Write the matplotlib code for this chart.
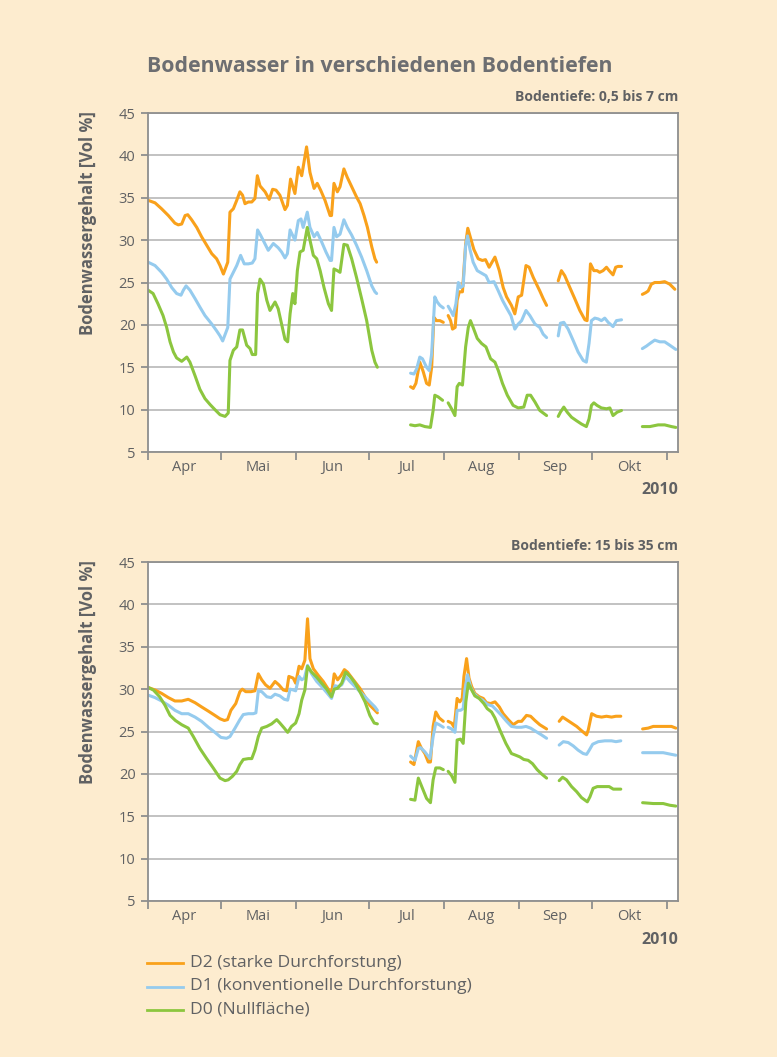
import numpy as np
import matplotlib
matplotlib.use("Agg")
import matplotlib.pyplot as plt
from matplotlib.lines import Line2D

# ---------------- data (x = days since 1 April 2010, None = gap) ----------------
months = ["Apr", "Mai", "Jun", "Jul", "Aug", "Sep", "Okt"]
month_starts = [0, 30, 61, 91, 122, 153, 183, 214]
year_label = "2010"
title = "Bodenwasser in verschiedenen Bodentiefen"
depth_labels = ["Bodentiefe: 0,5 bis 7 cm", "Bodentiefe: 15 bis 35 cm"]
ylabel = "Bodenwassergehalt [Vol %]"
series_names = ["D2 (starke Durchforstung)",
                "D1 (konventionelle Durchforstung)",
                "D0 (Nullfläche)"]

# ---- top panel: 0,5 bis 7 cm ----
top_d2_days = [0, 2.9, 5.6, 8.4, 11.1, 12.5, 13.9, 15.3, 16.4, 18.0, 20.1, 22.1, 24.2, 26.3, 28.3,
               29.7, 31.1, 32.9, 33.8, 35.2, 36.6, 37.9, 39.0, 40.0, 41.4, 42.8, 44.1, 45.1, 46.2,
               48.3, 50.0, 51.4, 52.8, 54.4, 56.5, 57.5, 58.8, 60.6, 62.0, 63.4, 65.4, 66.8, 68.5,
               69.8, 71.2, 73.0, 75.1, 75.7, 76.7, 78.1, 79.2, 80.8, 82.2, 84.0, 86.0, 87.5, 89.1,
               90.5, 92.3, 93.6, 94.3, None,
               108.3, 109.4, 110.5, 112.1, 113.5, 114.9, 116.0, 117.0, 117.9, 119.0, 120.4, 121.8, None,
               123.8, 124.8, 125.6, 126.7, 127.5, 128.4, 129.7, 131.0, 131.9, 133.0, 134.4, 136.2,
               137.9, 139.2, 140.7, 143.1, 144.9, 146.5, 147.9, 149.9, 151.3, 152.7, 154.1, 155.9,
               157.2, 158.9, 161.6, 163.0, 164.4, None,
               169.2, 170.5, 171.9, 174.0, 176.0, 178.1, 180.2, 181.1, 182.5, 183.9, 185.2, 186.3,
               187.7, 189.1, 190.2, 191.8, 192.9, 193.9, 195.3, None,
               203.9, 205.3, 206.3, 207.6, 209.0, 211.1, 213.1, 215.2, 217.3]
top_d2_vals = [34.7, 34.4, 33.7, 32.9, 32.0, 31.8, 31.9, 32.9, 33.0, 32.4, 31.5, 30.4, 29.4, 28.4, 27.8,
               27.0, 26.0, 27.4, 33.3, 33.7, 34.7, 35.7, 35.3, 34.3, 34.5, 34.5, 34.9, 37.6, 36.4,
               35.7, 34.8, 36.0, 35.9, 35.3, 33.6, 34.1, 37.2, 35.5, 38.6, 37.6, 41.0, 38.0, 36.1,
               36.7, 35.9, 34.7, 32.9, 32.9, 36.7, 35.7, 36.3, 38.4, 37.4, 36.3, 35.1, 34.3, 32.9,
               31.5, 29.2, 27.8, 27.4, None,
               12.7, 12.5, 13.1, 15.6, 14.5, 13.1, 12.9, 15.0, 20.9, 20.5, 20.5, 20.3, None,
               21.1, 20.5, 19.5, 19.7, 22.9, 23.9, 23.9, 29.5, 31.4, 30.3, 28.9, 27.8,
               27.6, 27.7, 26.8, 28.0, 26.4, 24.4, 23.3, 22.3, 21.3, 23.3, 23.5, 27.0,
               26.8, 25.6, 24.0, 23.1, 22.3, None,
               25.2, 26.4, 25.8, 24.4, 23.1, 21.7, 20.6, 20.5, 27.2, 26.4, 26.4, 26.2,
               26.4, 26.8, 26.4, 25.9, 26.8, 26.9, 26.9, None,
               23.6, 23.8, 24.0, 24.8, 25.0, 25.0, 25.1, 24.8, 24.2]

top_d1_days = [0, 2.9, 5.6, 7.7, 9.8, 11.8, 13.6, 14.6, 15.7, 17.3, 19.4, 21.4, 23.5, 26.3, 28.3,
               29.7, 30.8, 32.9, 33.8, 35.2, 36.6, 38.2, 39.7, 41.4, 43.0, 44.1, 45.2, 46.4, 47.8,
               49.6, 51.7, 53.7, 55.1, 56.5, 57.5, 58.6, 60.6, 62.0, 63.1, 64.0, 65.7, 66.8, 68.5,
               69.8, 71.6, 73.4, 75.1, 75.7, 76.7, 77.8, 79.2, 80.8, 82.2, 84.0, 86.0, 88.1, 90.2,
               92.3, 93.6, 94.3, None,
               108.3, 109.7, 110.8, 112.1, 113.2, 114.9, 116.0, 117.0, 118.3, 119.3, 120.4, 121.8, None,
               123.8, 124.8, 125.9, 127.0, 128.0, 128.9, 130.0, 131.0, 131.8, 132.8, 134.1, 135.8,
               137.6, 139.4, 140.7, 142.7, 144.5, 146.2, 147.9, 149.7, 151.3, 152.7, 154.1, 155.9,
               157.5, 159.6, 161.6, 163.0, 164.4, None,
               169.2, 170.1, 171.5, 173.3, 175.3, 177.4, 179.5, 180.8, 181.9, 182.9, 184.3, 185.7,
               187.0, 188.4, 189.8, 191.8, 193.2, 195.3, None,
               203.9, 205.6, 207.0, 209.0, 211.1, 213.1, 215.2, 217.7]
top_d1_vals = [27.4, 27.0, 26.2, 25.4, 24.4, 23.7, 23.5, 24.1, 24.6, 24.1, 23.1, 22.1, 21.1, 20.1, 19.3,
               18.7, 18.1, 19.7, 25.4, 26.2, 27.0, 28.2, 27.2, 27.2, 27.3, 27.8, 31.2, 30.6, 29.8,
               28.8, 29.6, 29.1, 28.6, 27.9, 28.4, 31.2, 30.0, 32.3, 32.5, 31.5, 33.3, 31.5, 30.4,
               30.9, 29.8, 28.6, 27.6, 27.6, 31.5, 30.4, 30.7, 32.4, 31.5, 30.6, 29.4, 28.0, 26.4,
               24.6, 23.9, 23.7, None,
               14.3, 14.2, 14.8, 16.2, 16.0, 15.0, 14.6, 16.6, 23.3, 22.7, 22.3, 22.0, None,
               22.2, 21.7, 21.1, 22.5, 25.0, 24.4, 24.6, 29.3, 30.5, 28.9, 27.4, 26.4,
               26.1, 25.8, 25.0, 25.1, 24.0, 22.9, 22.0, 21.1, 19.5, 20.1, 20.5, 21.7,
               21.1, 20.1, 19.7, 18.9, 18.5, None,
               18.7, 20.2, 20.3, 19.5, 18.2, 16.8, 15.8, 15.6, 17.8, 20.5, 20.8, 20.7,
               20.5, 20.8, 20.3, 19.8, 20.5, 20.6, None,
               17.2, 17.5, 17.8, 18.2, 18.0, 18.0, 17.6, 17.1]

top_d0_days = [0, 2.1, 4.1, 6.2, 7.7, 9.1, 10.5, 11.8, 13.9, 16.0, 17.3, 19.4, 21.4, 23.5, 25.6,
               27.6, 29.7, 31.8, 33.1, 33.8, 35.2, 36.6, 37.9, 39.0, 40.7, 42.1, 43.0, 44.4, 45.2,
               46.2, 47.6, 49.0, 50.3, 52.4, 53.7, 55.1, 56.5, 57.6, 58.6, 59.7, 60.6, 61.6, 62.7,
               64.0, 65.7, 66.8, 68.2, 69.6, 71.0, 72.6, 74.4, 75.7, 76.7, 78.1, 79.2, 80.8, 82.2,
               84.0, 86.0, 88.1, 90.2, 92.3, 93.6, 94.6, None,
               108.3, 110.1, 112.1, 114.2, 116.5, 117.6, 118.3, 119.7, 121.5, None,
               123.8, 125.2, 126.6, 127.5, 128.4, 129.7, 131.0, 132.1, 133.0, 134.1, 135.8, 137.6,
               139.4, 141.3, 143.1, 144.5, 146.2, 148.2, 150.6, 152.7, 155.0, 156.4, 157.8, 159.6,
               161.6, 163.0, 164.4, None,
               169.2, 170.1, 171.5, 172.9, 174.7, 176.7, 178.8, 180.8, 181.9, 182.9, 183.9, 185.2,
               187.0, 189.1, 190.5, 191.8, 193.5, 195.3, None,
               203.9, 207.0, 210.4, 213.1, 215.9, 217.7]
top_d0_vals = [24.1, 23.7, 22.5, 21.1, 19.7, 18.0, 16.8, 16.1, 15.7, 16.2, 15.6, 14.0, 12.4, 11.3, 10.6,
               10.0, 9.4, 9.2, 9.6, 15.8, 17.0, 17.4, 19.4, 19.4, 17.6, 17.2, 16.5, 16.5, 23.7,
               25.4, 24.8, 22.9, 21.7, 22.7, 21.9, 20.1, 18.3, 18.0, 21.3, 23.7, 22.5, 26.4, 28.6,
               28.8, 31.5, 30.0, 28.2, 27.8, 26.4, 24.4, 22.5, 21.7, 26.6, 26.4, 26.2, 29.5, 29.4,
               27.8, 25.6, 23.1, 20.5, 17.0, 15.6, 15.0, None,
               8.2, 8.1, 8.2, 8.0, 7.9, 9.9, 11.7, 11.5, 11.1, None,
               10.8, 10.1, 9.3, 12.7, 13.1, 12.9, 17.4, 19.7, 20.5, 19.7, 18.4, 17.8,
               17.4, 16.0, 15.6, 14.6, 13.1, 11.7, 10.5, 10.2, 10.3, 11.7, 11.7, 10.9,
               9.9, 9.6, 9.3, None,
               9.2, 9.7, 10.3, 9.7, 9.1, 8.7, 8.3, 8.0, 8.9, 10.5, 10.8, 10.5,
               10.2, 10.1, 10.2, 9.3, 9.7, 9.9, None,
               8.0, 8.0, 8.2, 8.2, 8.0, 7.9]

# ---- bottom panel: 15 bis 35 cm ----
bot_d2_days = [0, 2.9, 5.6, 8.4, 11.1, 13.9, 16.6, 19.4, 22.1, 24.9, 27.6, 29.7, 31.5, 32.8, 34.2,
               36.2, 37.9, 38.9, 40.3, 42.5, 44.1, 45.5, 46.9, 48.5, 50.3, 52.4, 54.0, 55.8, 57.2,
               58.1, 59.9, 60.9, 62.3, 63.4, 64.7, 65.8, 66.8, 68.2, 70.3, 72.3, 74.1, 75.7, 76.8,
               78.2, 79.6, 81.0, 82.3, 84.7, 87.4, 89.5, 91.5, 93.6, 94.6, None,
               108.3, 109.7, 111.5, 112.8, 114.2, 115.6, 116.5, 117.6, 118.7, 120.1, 121.8, None,
               123.8, 125.2, 126.3, 127.5, 128.6, 129.6, 130.3, 131.4, 132.4, 133.5, 134.8, 136.6,
               138.3, 139.6, 141.3, 143.1, 144.9, 146.5, 148.6, 150.6, 152.7, 154.1, 156.1, 157.8,
               159.6, 161.6, 164.4, None,
               169.6, 171.0, 172.6, 174.7, 176.8, 178.8, 180.9, 181.6, 183.0, 185.0, 187.1, 189.1,
               191.2, 193.0, 195.0, None,
               204.0, 206.3, 208.4, 211.1, 213.9, 215.9, 217.7]
bot_d2_vals = [30.2, 29.9, 29.5, 29.0, 28.6, 28.6, 28.8, 28.4, 27.9, 27.4, 26.9, 26.5, 26.3, 26.4, 27.5,
               28.3, 29.7, 30.0, 29.7, 29.7, 29.8, 31.8, 31.1, 30.5, 30.1, 30.9, 30.5, 29.9, 29.8,
               31.5, 31.3, 30.7, 32.7, 32.4, 33.4, 38.3, 33.6, 32.4, 31.6, 30.9, 30.1, 29.4, 31.8,
               31.1, 31.6, 32.3, 32.0, 31.1, 30.1, 29.1, 28.1, 27.5, 27.2, None,
               21.4, 21.1, 23.8, 23.0, 22.4, 21.4, 21.4, 25.6, 27.3, 26.6, 26.2, None,
               26.2, 26.0, 25.5, 28.9, 28.5, 28.9, 31.5, 33.6, 31.3, 30.3, 29.5, 29.1,
               28.9, 28.4, 28.3, 28.5, 27.9, 27.1, 26.4, 25.8, 26.2, 26.2, 26.9, 26.8,
               26.3, 25.8, 25.3, None,
               26.2, 26.7, 26.4, 26.0, 25.6, 25.1, 24.6, 25.2, 27.1, 26.8, 26.7, 26.8,
               26.7, 26.8, 26.8, None,
               25.3, 25.4, 25.6, 25.6, 25.6, 25.6, 25.4]

bot_d1_days = [0, 2.9, 5.6, 8.4, 11.1, 13.9, 16.6, 19.4, 22.1, 24.9, 27.6, 30.1, 32.4, 33.8, 35.9,
               37.9, 39.3, 41.4, 43.4, 44.5, 45.5, 46.9, 49.0, 50.7, 52.4, 54.4, 56.2, 57.6, 58.6,
               59.9, 60.9, 62.3, 63.4, 64.5, 65.8, 67.5, 69.6, 71.6, 73.7, 75.7, 77.1, 78.5, 79.9,
               81.5, 83.3, 85.4, 87.4, 89.5, 91.5, 93.6, 94.6, None,
               108.3, 110.1, 111.5, 112.4, 114.2, 116.3, 117.6, 118.7, 120.1, 121.8, None,
               123.8, 125.2, 126.6, 127.5, 128.9, 130.0, 130.7, 131.8, 133.0, 134.4, 136.2, 138.0,
               139.9, 142.1, 143.8, 145.8, 147.9, 149.9, 152.0, 154.1, 155.9, 157.8, 160.0, 162.3,
               164.4, None,
               169.6, 171.3, 173.3, 175.4, 177.4, 179.5, 180.9, 182.0, 183.4, 185.7, 188.4, 191.2,
               193.0, 195.0, None,
               204.0, 208.4, 212.5, 215.9, 217.7]
bot_d1_vals = [29.3, 29.0, 28.6, 28.1, 27.5, 27.1, 27.1, 26.7, 26.2, 25.5, 24.9, 24.3, 24.2, 24.4, 25.4,
               26.4, 27.0, 27.1, 27.1, 27.2, 29.8, 29.7, 29.1, 29.0, 29.4, 29.2, 28.8, 28.7, 30.0,
               29.9, 29.8, 31.5, 31.1, 31.3, 32.8, 31.8, 30.9, 30.3, 29.6, 28.9, 30.4, 30.3, 30.5,
               31.5, 30.9, 30.3, 29.7, 29.1, 28.5, 27.9, 27.5, None,
               22.1, 21.6, 23.0, 23.1, 22.6, 21.8, 24.4, 26.0, 25.8, 25.5, None,
               25.5, 25.3, 24.9, 27.5, 27.5, 27.7, 29.9, 31.7, 30.3, 29.5, 29.0, 28.7,
               28.2, 28.0, 27.5, 26.9, 26.2, 25.6, 25.5, 25.5, 25.6, 25.4, 25.0, 24.6,
               24.2, None,
               23.4, 23.8, 23.7, 23.3, 22.8, 22.4, 22.3, 22.8, 23.5, 23.8, 23.9, 23.9,
               23.8, 23.9, None,
               22.5, 22.5, 22.5, 22.3, 22.2]

bot_d0_days = [0, 2.2, 4.8, 7.0, 9.1, 11.3, 13.9, 16.6, 18.7, 21.4, 24.2, 26.9, 29.7, 31.8, 33.1,
               34.8, 36.6, 37.9, 39.3, 41.4, 42.8, 44.1, 45.5, 46.9, 49.0, 51.0, 53.1, 54.4, 56.2,
               57.6, 59.2, 60.9, 62.3, 63.4, 64.7, 65.8, 67.5, 69.6, 71.6, 73.7, 75.7, 76.8, 78.2,
               79.9, 81.5, 83.3, 85.4, 87.4, 89.5, 91.5, 93.3, 94.6, None,
               108.3, 110.1, 111.5, 113.2, 114.9, 116.5, 117.6, 118.7, 120.4, 121.8, None,
               123.8, 125.2, 126.6, 127.5, 128.9, 130.0, 131.1, 132.1, 133.5, 134.8, 136.6, 138.5,
               139.9, 141.7, 143.1, 145.1, 147.6, 149.9, 151.7, 153.4, 155.0, 156.8, 158.6, 160.5,
               162.3, 164.4, None,
               169.6, 171.0, 172.6, 174.7, 176.8, 178.8, 181.2, 182.3, 183.6, 185.3, 187.7, 190.2,
               191.9, 195.0, None,
               204.0, 208.4, 212.5, 215.2, 217.7]
bot_d0_vals = [30.2, 29.9, 29.1, 28.1, 26.9, 26.3, 25.8, 25.4, 24.4, 23.0, 21.8, 20.7, 19.5, 19.2, 19.3,
               19.7, 20.3, 21.1, 21.7, 21.8, 21.8, 22.8, 24.4, 25.4, 25.6, 25.9, 26.4, 26.0, 25.4,
               24.9, 25.6, 26.0, 27.1, 28.7, 29.9, 32.7, 32.0, 31.4, 30.7, 30.0, 29.1, 30.0, 30.1,
               30.7, 32.0, 31.5, 30.7, 29.7, 28.5, 26.9, 26.0, 25.9, None,
               17.0, 16.9, 19.5, 18.3, 17.1, 16.6, 19.3, 20.7, 20.7, 20.5, None,
               20.3, 19.8, 19.0, 24.0, 24.1, 23.6, 28.5, 30.7, 29.9, 29.2, 28.9, 28.3,
               27.7, 27.3, 26.6, 25.2, 23.6, 22.4, 22.2, 22.0, 21.7, 21.6, 21.2, 20.5,
               20.0, 19.5, None,
               19.2, 19.6, 19.3, 18.5, 17.9, 17.2, 16.7, 17.3, 18.3, 18.5, 18.5, 18.5,
               18.2, 18.2, None,
               16.6, 16.5, 16.5, 16.3, 16.2]

colors = ["#F9A11B", "#95CBEE", "#8CC63F"]

# ---------------- figure ----------------
FONT = ["Open Sans", "DejaVu Sans"]
plt.rcParams["font.family"] = FONT
TXT = "#606163"
BG = "#FDECCF"
W, H = 777, 1057
fig = plt.figure(figsize=(W / 100, H / 100), dpi=100, facecolor=BG)


def fx(px):
    return px / W


def fy(py):
    return 1 - py / H


def make_axes(top_px, bottom_px):
    ax = fig.add_axes([fx(148), fy(bottom_px), fx(678) - fx(148), (bottom_px - top_px) / H])
    ax.set_facecolor("white")
    ax.set_xlim(0, 218.6)
    ax.set_ylim(5, 45)
    ax.set_yticks(np.arange(5, 46, 5))
    ax.yaxis.grid(True, color="#C2C2C2", lw=1.4)
    ax.set_axisbelow(True)
    for s in ax.spines.values():
        s.set_color("#8E8E8E")
        s.set_linewidth(1.3)
    ax.set_xticks(month_starts)
    ax.set_xticklabels([])
    mids = [(month_starts[i] + month_starts[i + 1]) / 2 for i in range(len(months))]
    ax.set_xticks(mids, minor=True)
    ax.set_xticklabels(months, minor=True)
    ax.tick_params(axis="x", which="major", direction="out", length=6, width=1.3, color="#8E8E8E")
    ax.tick_params(axis="x", which="minor", length=0, pad=6, labelsize=10.5, labelcolor=TXT)
    ax.tick_params(axis="y", direction="out", length=5, width=1.3, color="#8E8E8E",
                   labelsize=10.5, labelcolor=TXT, pad=4)
    return ax


def plot_panel(ax, data):
    for (days, vals), c in zip(data, colors):
        x = np.array(days, dtype=float)
        y = np.array(vals, dtype=float)
        ax.plot(x, y, color=c, lw=2.2, solid_joinstyle="round", solid_capstyle="round")


ax1 = make_axes(113, 452)
plot_panel(ax1, [(top_d2_days, top_d2_vals), (top_d1_days, top_d1_vals), (top_d0_days, top_d0_vals)])
ax2 = make_axes(562, 901)
plot_panel(ax2, [(bot_d2_days, bot_d2_vals), (bot_d1_days, bot_d1_vals), (bot_d0_days, bot_d0_vals)])

# texts
fig.text(fx(380), fy(67), title, ha="center", va="center", fontsize=15.3, fontweight="bold", color="#6D6E71")
fig.text(fx(678), fy(97), depth_labels[0], ha="right", va="center", fontsize=10, fontweight="bold", color=TXT)
fig.text(fx(678), fy(546), depth_labels[1], ha="right", va="center", fontsize=10, fontweight="bold", color=TXT)
fig.text(fx(88), fy(223), ylabel, rotation=90, ha="center", va="center", fontsize=12,
         fontweight="bold", color=TXT)
fig.text(fx(88), fy(672), ylabel, rotation=90, ha="center", va="center", fontsize=12,
         fontweight="bold", color=TXT)
fig.text(fx(678), fy(490), year_label, ha="right", va="center", fontsize=11.5, fontweight="bold", color=TXT)
fig.text(fx(678), fy(940), year_label, ha="right", va="center", fontsize=11.5, fontweight="bold", color=TXT)

# legend
for i, (name, c) in enumerate(zip(series_names, colors)):
    yy = fy(963 + i * 23.5)
    fig.add_artist(Line2D([fx(147), fx(183)], [yy, yy], color=c, lw=2.0, transform=fig.transFigure))
    fig.text(fx(190), yy, name, ha="left", va="center", fontsize=12.6, color=TXT)

fig.savefig("out.png", dpi=100, facecolor=BG)
